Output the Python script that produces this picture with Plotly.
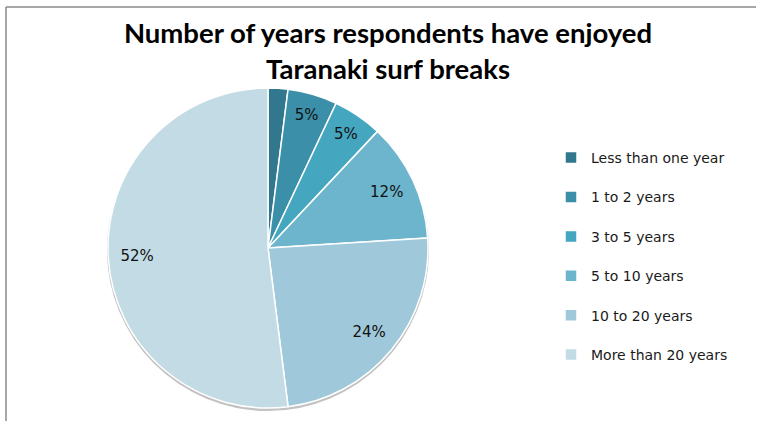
import plotly.graph_objects as go

# Survey breakdown: how long respondents have surfed Taranaki breaks
categories = [
    "Less than one year",
    "1 to 2 years",
    "3 to 5 years",
    "5 to 10 years",
    "10 to 20 years",
    "More than 20 years",
]
shares = [2, 5, 5, 12, 24, 52]
show_label = [False, True, True, True, True, True]

colors = ["#31788f", "#3c8fa8", "#45a6bf", "#6db5cc", "#9fc9da", "#c2dbe5"]

W, H = 762, 421
cx, cy, r = 268, 248, 160  # pie centre / radius in pixels
domain = dict(
    x=[(cx - r) / W, (cx + r) / W],
    y=[(H - cy - r) / H, (H - cy + r) / H],
)

# legend entries get an extra blank line for wider row spacing
legend_names = [c + "<br> " for c in categories]
templates = ["%{percent:.0%}" if s else "" for s in show_label]

fig = go.Figure()

# coloured slices
fig.add_trace(
    go.Pie(
        labels=legend_names,
        values=shares,
        sort=False,
        direction="clockwise",
        rotation=0,
        marker=dict(colors=colors, line=dict(color="white", width=1.5)),
        textinfo="none",
        domain=domain,
        hoverinfo="label+percent",
    )
)

# transparent ring on top: its inside text sits near the outer edge
fig.add_trace(
    go.Pie(
        labels=legend_names,
        values=shares,
        sort=False,
        direction="clockwise",
        rotation=0,
        hole=0.64,
        marker=dict(colors=["rgba(0,0,0,0)"] * len(shares), line=dict(width=0)),
        texttemplate=templates,
        textposition="inside",
        insidetextorientation="horizontal",
        textfont=dict(family="DejaVu Sans", size=15, color="#111111"),
        domain=domain,
        showlegend=False,
        hoverinfo="skip",
    )
)

shapes = [
    # soft shadow under the pie
    dict(
        type="circle", xref="paper", yref="paper", layer="below",
        x0=(cx - r - 1) / W, x1=(cx + r + 1) / W,
        y0=(H - cy - r - 3) / H, y1=(H - cy + r - 1) / H,
        fillcolor="rgba(120,120,120,0.45)", line=dict(width=0),
    ),
    # chart frame (top and left edges)
    dict(type="line", xref="paper", yref="paper",
         x0=6 / W, x1=756 / W, y0=1 - 7 / H, y1=1 - 7 / H,
         line=dict(color="#8a8a8a", width=1.5)),
    dict(type="line", xref="paper", yref="paper",
         x0=6 / W, x1=6 / W, y0=1 - 7 / H, y1=0,
         line=dict(color="#8a8a8a", width=1.5)),
]

fig.update_layout(
    width=W,
    height=H,
    margin=dict(l=0, r=0, t=0, b=0),
    paper_bgcolor="white",
    plot_bgcolor="white",
    title=dict(
        text="<b>Number of years respondents have enjoyed<br>Taranaki surf breaks</b>",
        x=388 / W, xanchor="center",
        y=1 - 43 / H, yanchor="middle",
        font=dict(family="Lato", size=27.5, color="#000000"),
    ),
    legend=dict(
        x=551 / W, xanchor="left",
        y=1 - 142 / H, yanchor="top",
        valign="top",
        font=dict(family="DejaVu Sans", size=14, color="#1a1a1a"),
        bgcolor="rgba(0,0,0,0)",
        tracegroupgap=0,
    ),
    shapes=shapes,
    showlegend=True,
)

fig.write_html("out.html")
